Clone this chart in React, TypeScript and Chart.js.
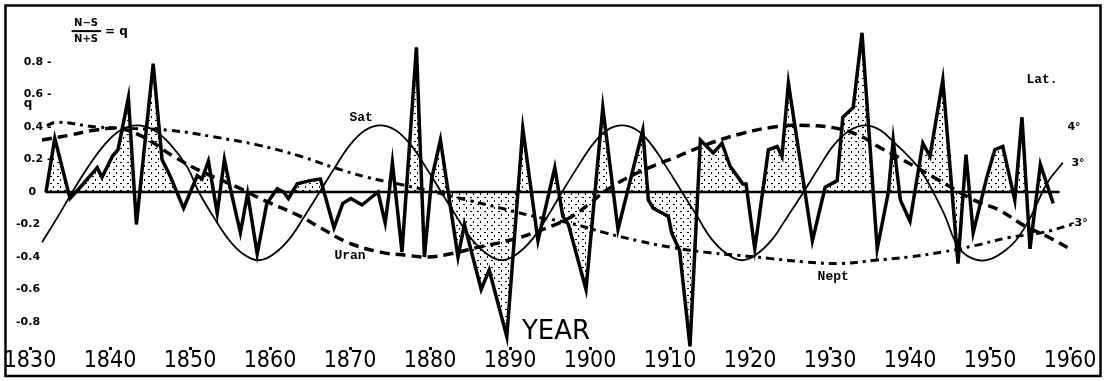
import React, { useEffect, useRef } from "react";
import { Chart, registerables } from "chart.js";

Chart.register(...registerables);

// ---- data ----
const qYears = [
  1832.0, 1833.1, 1835.0, 1836.3, 1838.4, 1839.0, 1840.3, 1841.0, 1842.3, 1843.3,
  1845.4, 1846.5, 1847.5, 1849.2, 1850.9, 1851.5, 1852.3, 1853.4, 1854.3, 1855.0,
  1856.3, 1857.2, 1858.4, 1859.6, 1860.9, 1861.7, 1862.3, 1863.4, 1865.0, 1866.3,
  1868.0, 1869.1, 1870.1, 1871.5, 1873.5, 1874.4, 1874.9, 1875.3, 1876.5, 1878.3,
  1879.3, 1880.2, 1881.3, 1883.5, 1884.3, 1886.4, 1887.4, 1889.6, 1891.6, 1893.5,
  1895.6, 1896.6, 1897.3, 1899.5, 1901.6, 1903.5, 1906.6, 1907.3, 1907.9, 1909.8,
  1910.2, 1911.2, 1912.5, 1913.8, 1915.4, 1916.5, 1917.5, 1919.1, 1919.5, 1920.6,
  1922.3, 1923.4, 1924.0, 1924.8, 1927.8, 1929.4, 1930.9, 1931.6, 1932.9, 1934.0,
  1935.9, 1937.3, 1937.9, 1938.8, 1940.0, 1941.6, 1942.5, 1944.1, 1946.0, 1947.0,
  1947.9, 1949.6, 1950.6, 1951.6, 1953.1, 1954.0, 1955.0, 1956.3, 1957.9,
];
const qValues = [
  0.0, 0.33, -0.04, 0.03, 0.15, 0.09, 0.22, 0.26, 0.58, -0.2,
  0.79, 0.2, 0.1, -0.1, 0.1, 0.08, 0.19, -0.13, 0.2, 0.03,
  -0.25, -0.01, -0.38, -0.07, 0.02, 0.0, -0.04, 0.05, 0.07, 0.08,
  -0.22, -0.07, -0.04, -0.08, 0.0, -0.19, 0.0, 0.18, -0.37, 0.89,
  -0.4, 0.08, 0.32, -0.4, -0.2, -0.6, -0.48, -0.89, 0.39, -0.3,
  0.15, -0.15, -0.2, -0.6, 0.52, -0.23, 0.38, -0.05, -0.1, -0.15,
  -0.25, -0.36, -0.95, 0.32, 0.24, 0.3, 0.16, 0.05, 0.05, -0.35,
  0.26, 0.28, 0.22, 0.67, -0.3, 0.03, 0.07, 0.46, 0.52, 0.98,
  -0.35, 0.0, 0.32, -0.05, -0.18, 0.3, 0.22, 0.69, -0.44, 0.23,
  -0.25, 0.09, 0.26, 0.28, -0.05, 0.46, -0.35, 0.17, -0.07,
];

const satYears = [
  1831.5, 1833.5, 1835.3, 1837.2, 1839.3, 1841.3, 1843.4, 1845.5, 1847.6, 1849.7,
  1851.1, 1852.9, 1854.8, 1856.6, 1858.6, 1860.5, 1862.4, 1864.3, 1866.2, 1868.1,
  1870.0, 1871.9, 1873.8, 1875.7, 1877.6, 1879.5, 1881.4, 1883.3, 1885.2, 1887.1,
  1889.0, 1890.9, 1892.8, 1894.7, 1896.5, 1898.4, 1900.3, 1902.1, 1904.0, 1905.9,
  1907.7, 1909.6, 1911.5, 1913.4, 1915.2, 1917.1, 1919.0, 1920.9, 1922.8, 1924.7,
  1926.7, 1928.6, 1930.5, 1932.5, 1934.4, 1936.3, 1938.1, 1939.8, 1941.5, 1943.0,
  1944.4, 1945.6, 1946.8, 1948.6, 1950.2, 1951.9, 1953.2, 1954.7, 1955.7, 1957.2,
  1959.1,
];
const satValues = [
  -0.31, -0.15, 0.0, 0.15, 0.29, 0.38, 0.41, 0.38, 0.29, 0.15,
  0.0, -0.15, -0.29, -0.38, -0.42, -0.38, -0.29, -0.15, 0.0, 0.15,
  0.29, 0.38, 0.41, 0.38, 0.29, 0.15, 0.0, -0.15, -0.29, -0.38,
  -0.42, -0.38, -0.29, -0.15, 0.0, 0.15, 0.29, 0.38, 0.41, 0.38,
  0.29, 0.15, 0.0, -0.15, -0.29, -0.38, -0.42, -0.38, -0.29, -0.15,
  0.0, 0.15, 0.29, 0.38, 0.41, 0.38, 0.3, 0.22, 0.12, -0.01,
  -0.15, -0.3, -0.38, -0.42, -0.41, -0.36, -0.3, -0.19, -0.09, 0.06,
  0.18,
];

const uranYears = [
  1831.5, 1835.0, 1838.0, 1841.3, 1844.5, 1847.9, 1851.7, 1855.9, 1859.2, 1863.8,
  1866.3, 1869.7, 1873.8, 1877.2, 1879.7, 1882.6, 1886.0, 1889.7, 1893.0, 1897.4,
  1900.0, 1902.0, 1906.0, 1910.5, 1915.0, 1919.0, 1923.0, 1927.0, 1931.0, 1934.0,
  1936.0, 1938.3, 1943.0, 1948.0, 1951.1, 1954.4, 1957.4, 1960.0,
];
const uranValues = [
  0.32, 0.35, 0.38, 0.39, 0.33, 0.22, 0.12, 0.03, -0.05, -0.15,
  -0.22, -0.31, -0.37, -0.39, -0.4, -0.38, -0.34, -0.3, -0.25, -0.16,
  -0.07, 0.01, 0.12, 0.21, 0.3, 0.36, 0.4, 0.41, 0.39, 0.34,
  0.28, 0.22, 0.09, -0.05, -0.11, -0.21, -0.28, -0.35,
];

const neptYears = [
  1832.1, 1833.4, 1838.4, 1843.0, 1847.5, 1852.9, 1858.4, 1863.8, 1868.0, 1872.2,
  1876.0, 1880.5, 1884.7, 1888.9, 1893.0, 1897.4, 1901.8, 1906.0, 1910.1, 1914.3,
  1918.5, 1922.7, 1926.8, 1931.4, 1935.6, 1939.8, 1944.0, 1948.1, 1952.4, 1956.5,
  1960.2,
];
const neptValues = [
  0.41, 0.43, 0.4, 0.39, 0.38, 0.34, 0.29, 0.22, 0.15, 0.09,
  0.05, 0.0, -0.05, -0.1, -0.15, -0.19, -0.25, -0.3, -0.34, -0.37,
  -0.39, -0.41, -0.43, -0.44, -0.42, -0.4, -0.37, -0.33, -0.28, -0.25,
  -0.2,
];

const zeroYears = [1831.9, 1958.7];
const shadeStart = [1881.0, 1895.5, 1906.5, 1944.0];
const shadeEnd = [1892.0, 1902.0, 1914.0, 1947.5];

const xTickValues = [1830, 1840, 1850, 1860, 1870, 1880, 1890, 1900, 1910, 1920, 1930, 1940, 1950, 1960];
const yTickValues = [0.8, 0.6, 0.4, 0.2, 0, -0.2, -0.4, -0.6, -0.8];

const planetNames = ["Sat", "Uran", "Nept", "Lat."];
const latNames = ["4°", "3°", "-3°"];
const axisTitle = "YEAR";

// ---- layout (data-space anchors for texts) ----
const planetAt = [
  [1871.4, 0.46],
  [1870.0, -0.39],
  [1930.4, -0.52],
  [1956.5, 0.69],
];
const latAt = [
  [1960.5, 0.4],
  [1961.0, 0.18],
  [1961.1, -0.19],
];
const titleAt = [1895.75, -0.86];

const pts = (xs: number[], ys: number[]) => xs.map((x, i) => ({ x, y: ys[i] }));

function makeStipple(): CanvasPattern | string {
  const c = document.createElement("canvas");
  c.width = 7;
  c.height = 7;
  const g = c.getContext("2d");
  if (!g) return "rgba(0,0,0,0.12)";
  g.fillStyle = "#000";
  g.fillRect(1, 1, 2, 1);
  g.fillRect(4, 4, 1, 2);
  return g.createPattern(c, "repeat") || "rgba(0,0,0,0.12)";
}

const textPlugin = {
  id: "texts",
  afterDraw(chart: any) {
    const { ctx } = chart;
    const xs = chart.scales.x;
    const ys = chart.scales.y;
    const px = (v: number) => xs.getPixelForValue(v);
    const py = (v: number) => ys.getPixelForValue(v);
    ctx.save();
    ctx.fillStyle = "#000";
    ctx.strokeStyle = "#000";
    ctx.textAlign = "center";
    ctx.textBaseline = "middle";

    ctx.font = 'bold 13px "Liberation Mono", monospace';
    planetNames.forEach((t, i) => ctx.fillText(t, px(planetAt[i][0]), py(planetAt[i][1])));

    ctx.font = 'bold 11px "DejaVu Sans", sans-serif';
    latNames.forEach((t, i) => ctx.fillText(t, px(latAt[i][0]), py(latAt[i][1])));

    // formula (N-S)/(N+S) = q
    ctx.font = 'bold 10px "DejaVu Sans", sans-serif';
    const fx = px(1837.0);
    ctx.fillText("N−S", fx, py(1.04));
    ctx.fillText("N+S", fx, py(0.94));
    ctx.lineWidth = 2;
    ctx.beginPath();
    ctx.moveTo(px(1835.2), py(0.99));
    ctx.lineTo(px(1838.9), py(0.99));
    ctx.stroke();
    ctx.font = 'bold 12px "DejaVu Sans", sans-serif';
    ctx.fillText("= q", px(1840.8), py(0.985));
    ctx.font = 'bold 12px "DejaVu Sans", sans-serif';
    ctx.fillText("q", px(1829.75), py(0.54));

    ctx.font = '26px "DejaVu Sans", sans-serif';
    ctx.fillText(axisTitle, px(titleAt[0]), py(titleAt[1]));

    // frame
    ctx.lineWidth = 2.5;
    ctx.strokeRect(5.5, 5.5, chart.width - 11, chart.height - 10.5);
    ctx.restore();
  },
};

export default function App() {
  const ref = useRef<HTMLCanvasElement>(null);
  useEffect(() => {
    const canvas = ref.current;
    if (!canvas) return;
    const stipple = makeStipple();
    const q = pts(qYears, qValues);
    const shadeSets = shadeStart.map((s, i) => ({
      label: "shade" + i,
      data: q.filter((p) => p.x >= s && p.x <= shadeEnd[i]),
      borderWidth: 0,
      borderColor: "rgba(0,0,0,0)",
      pointRadius: 0,
      tension: 0,
      fill: { target: "origin", above: "rgba(0,0,0,0)", below: stipple },
    }));
    const chart = new Chart(canvas, {
      type: "line",
      data: {
        datasets: [
          ...shadeSets,
          {
            label: "zero",
            data: pts(zeroYears, [0, 0]),
            borderColor: "#000",
            borderWidth: 2.5,
            pointRadius: 0,
            fill: false,
          },
          {
            label: "Nept",
            data: pts(neptYears, neptValues),
            borderColor: "#000",
            borderWidth: 3,
            borderDash: [8, 5, 3, 5],
            pointRadius: 0,
            tension: 0.4,
            fill: false,
          },
          {
            label: "Uran",
            data: pts(uranYears, uranValues),
            borderColor: "#000",
            borderWidth: 3.5,
            borderDash: [10, 6],
            pointRadius: 0,
            tension: 0.4,
            fill: false,
          },
          {
            label: "Sat",
            data: pts(satYears, satValues),
            borderColor: "#000",
            borderWidth: 1.8,
            pointRadius: 0,
            tension: 0.4,
            fill: false,
          },
          {
            label: "q",
            data: q,
            borderColor: "#000",
            borderWidth: 3.5,
            pointRadius: 0,
            tension: 0,
            fill: { target: "origin", above: stipple, below: "rgba(0,0,0,0)" },
          },
        ] as any,
      },
      options: {
        animation: false,
        responsive: false,
        maintainAspectRatio: false,
        parsing: false as any,
        normalized: true,
        events: [],
        layout: { padding: { left: 8, right: 10, top: 6, bottom: 0 } },
        plugins: { legend: { display: false }, tooltip: { enabled: false } },
        scales: {
          x: {
            type: "linear",
            min: 1827.5,
            max: 1963.25,
            afterFit: (s: any) => {
              s.height = 34;
              s.paddingLeft = 0;
              s.paddingRight = 0;
              s.paddingTop = 0;
              s.paddingBottom = 0;
            },
            afterBuildTicks: (s: any) => {
              s.ticks = xTickValues.map((v) => ({ value: v }));
            },
            border: { display: false },
            grid: {
              display: true,
              drawOnChartArea: false,
              drawTicks: true,
              tickLength: 3,
              tickWidth: 3,
              tickColor: "#000",
            },
            ticks: {
              color: "#000",
              padding: -3,
              maxRotation: 0,
              autoSkip: false,
              font: { family: '"DejaVu Sans Condensed", "DejaVu Sans"', size: 23 },
              callback: (v: any) => String(v),
            },
          },
          y: {
            type: "linear",
            min: -0.9538,
            max: 1.1446,
            afterFit: (s: any) => {
              s.width = 2;
              s.paddingLeft = 0;
              s.paddingRight = 0;
              s.paddingTop = 0;
              s.paddingBottom = 0;
            },
            afterBuildTicks: (s: any) => {
              s.ticks = yTickValues.map((v) => ({ value: v }));
            },
            border: { display: false },
            grid: { display: false, drawTicks: false },
            ticks: {
              mirror: true,
              crossAlign: "far",
              padding: 6,
              color: "#000",
              font: { family: '"DejaVu Sans"', size: 11, weight: "bold" },
              callback: (v: any) => {
                const n = Number(v);
                if (n > 0) return n.toFixed(1) + " -";
                if (n === 0) return "0    ";
                return n.toFixed(1) + "   ";
              },
            },
          },
        },
      } as any,
      plugins: [textPlugin],
    });
    return () => chart.destroy();
  }, []);
  return (
    <div style={{ position: "fixed", left: 0, top: 0, width: 1106, height: 381, background: "#fff" }}>
      <canvas ref={ref} width={1106} height={381} style={{ display: "block", width: 1106, height: 381 }} />
    </div>
  );
}
